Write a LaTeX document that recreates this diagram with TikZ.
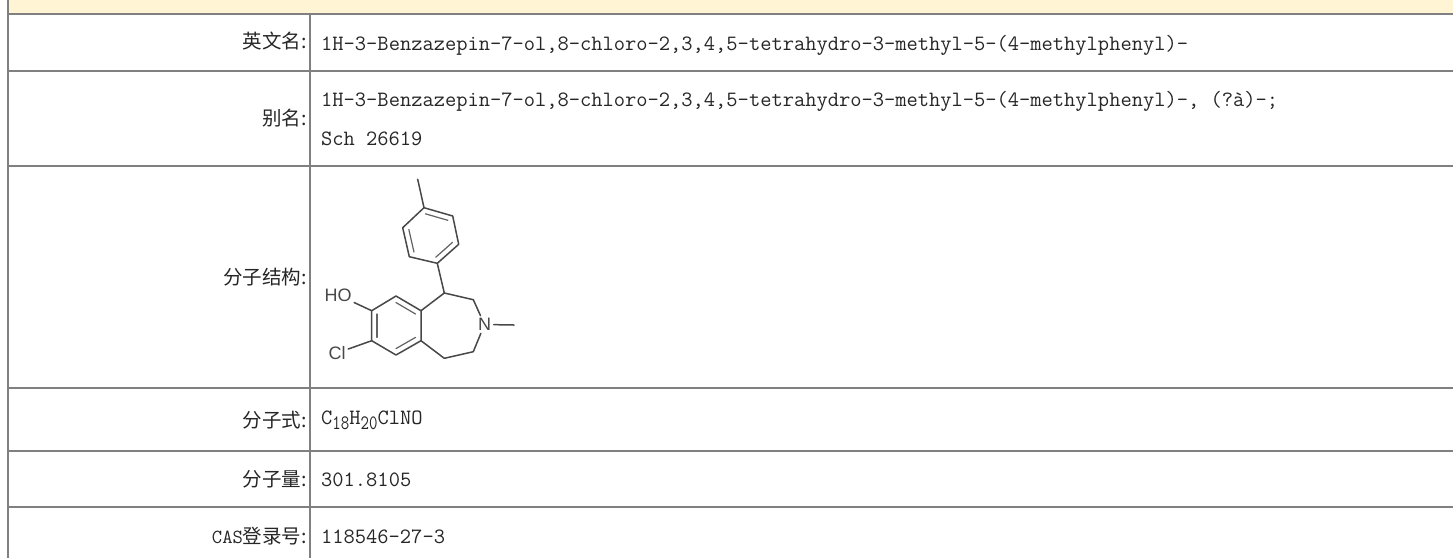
\documentclass[tikz,border=0pt]{standalone}
\usepackage{fontspec}
\usepackage{graphicx}
\usetikzlibrary{calc}
\newfontfamily\cjk{Noto Sans CJK SC}
\newfontfamily\molfont{Liberation Sans}
\definecolor{rule}{HTML}{808080}
\definecolor{band}{HTML}{FFF5D5}
\definecolor{ink}{HTML}{262626}
\definecolor{bondc}{HTML}{484848}
\newcommand{\valsize}{\fontsize{21.86}{22}\selectfont}
\newcommand{\subtxt}[1]{\raisebox{-5.5pt}{\scalebox{.8}[1]{\fontsize{20.5}{21}\selectfont #1}}}
\tikzset{
  x=1pt,y=-1pt,
  tablerule/.style={draw=rule,line width=2pt},
  rowlabel/.style={anchor=base east,inner sep=0pt,text=ink,font=\cjk\fontsize{19.5}{20}\selectfont},
  cellval/.style={anchor=base west,inner sep=0pt,text=ink,font=\ttfamily\valsize},
  bond/.style={draw=bondc,line width=1.5pt,line cap=round,line join=round},
  inbond/.style={draw=bondc!85,line width=1.2pt,line cap=round},
  atomlabel/.style={inner sep=2.5pt,text=bondc,font=\molfont\fontsize{18}{18}\selectfont},
}
\begin{document}
\begin{tikzpicture}
\useasboundingbox (0,0) rectangle (1453,558);
\fill[white] (0,0) rectangle (1453,558);
\fill[band] (8,0) rectangle (1453,14);
% table rules
\draw[tablerule] (8,0) -- (8,558);
\draw[tablerule] (309.5,14) -- (309.5,558);
\foreach \yy in {14,71,166,388,451,507} \draw[tablerule] (8,\yy) -- (1453,\yy);
% labels
\node[rowlabel] (l1) at (307,48) {英文名:};
\node[rowlabel] (l2) at (307,125) {别名:};
\node[rowlabel] (l3) at (307,284) {分子结构:};
\node[rowlabel] (l4) at (307,427) {分子式:};
\node[rowlabel] (l5) at (307,486) {分子量:};
\node[rowlabel] (l6) at (307,543) {{\ttfamily\fontsize{20}{20}\selectfont CAS}登录号:};
% values
\node[cellval] (v1) at (321,50.5) {1H-3-Benzazepin-7-ol,8-chloro-2,3,4,5-tetrahydro-3-methyl-5-(4-methylphenyl)-};
\node[cellval] (v2a) at (321,106.5) {1H-3-Benzazepin-7-ol,8-chloro-2,3,4,5-tetrahydro-3-methyl-5-(4-methylphenyl)-, (?à)-;};
\node[cellval] (v2b) at (321,145.5) {Sch 26619};
\node[cellval] (v4) at (321,424) {C\subtxt{18}H\subtxt{20}ClNO};
\node[cellval] (v5) at (321,486.5) {301.8105};
\node[cellval] (v6) at (321,543) {118546-27-3};
% molecule atoms
\coordinate (me) at (417.7,179.3);
\coordinate (p4) at (424,207.7);
\coordinate (p3) at (452.7,216);
\coordinate (p2) at (458.7,244.3);
\coordinate (p1) at (437.3,263.3);
\coordinate (p6) at (409.3,256.7);
\coordinate (p5) at (402.7,227.7);
\coordinate (pc) at (430.5,235.5);
\coordinate (c5) at (444.3,293);
\coordinate (c4) at (473.3,299.7);
\coordinate (c2) at (473.3,351.7);
\coordinate (c1) at (444.3,358.3);
\coordinate (a1) at (371.7,310.7);
\coordinate (a2) at (396,296);
\coordinate (a3) at (421,310.7);
\coordinate (a4) at (421,340.7);
\coordinate (a5) at (396,355);
\coordinate (a6) at (371.7,340.7);
\coordinate (ac) at (396,325.7);
\coordinate (nme) at (514,325);
\node[atomlabel] (ho) at (338,295) {HO};
\node[atomlabel] (cl) at (337,353) {Cl};
\node[atomlabel] (n) at (484.5,324.5) {N};
% bonds
\draw[bond] (me) -- (p4);
\draw[bond] (p4) -- (p3) -- (p2) -- (p1) -- (p6) -- (p5) -- cycle;
\draw[bond] (p1) -- (c5) -- (c4) -- (n);
\draw[bond] (n) -- (c2) -- (c1) -- (a4);
\draw[bond] (n) -- (nme);
\draw[bond] (c5) -- (a3);
\draw[bond] (a1) -- (a2) -- (a3) -- (a4) -- (a5) -- (a6) -- cycle;
\draw[bond] (ho) -- (a1);
\draw[bond] (cl) -- (a6);
% inner double bonds
\draw[inbond] ($(p4)!.22!(pc)$) -- ($(p3)!.22!(pc)$);
\draw[inbond] ($(p2)!.22!(pc)$) -- ($(p1)!.22!(pc)$);
\draw[inbond] ($(p6)!.22!(pc)$) -- ($(p5)!.22!(pc)$);
\draw[inbond] ($(a2)!.22!(ac)$) -- ($(a3)!.22!(ac)$);
\draw[inbond] ($(a4)!.22!(ac)$) -- ($(a5)!.22!(ac)$);
\draw[inbond] ($(a6)!.22!(ac)$) -- ($(a1)!.22!(ac)$);
\end{tikzpicture}
\end{document}
